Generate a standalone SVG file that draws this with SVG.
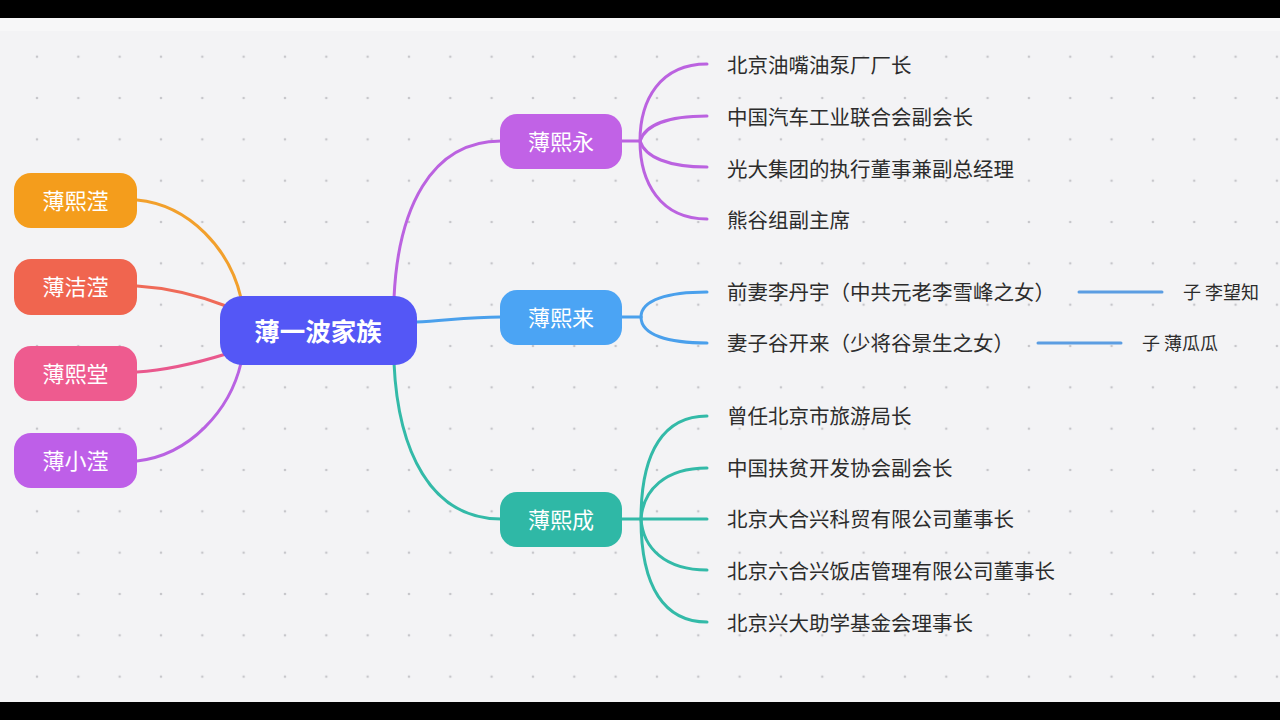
<svg xmlns="http://www.w3.org/2000/svg" width="1280" height="720" viewBox="0 0 1280 720">
<defs>
<pattern id="dots" patternUnits="userSpaceOnUse" x="16.33" y="36.03" width="41.33" height="41.33">
<circle cx="20.67" cy="20.67" r="1.3" fill="#c6c6ca"/>
</pattern>
<style>
.node text{font-family:"Noto Sans CJK SC","Noto Sans",sans-serif;fill:#ffffff;text-anchor:middle;dominant-baseline:central;}
.sub{font-size:22px;}
.leaf{font-family:"Noto Sans CJK SC","Noto Sans",sans-serif;font-size:20.5px;fill:#2c2c2c;dominant-baseline:central;}
.gc{font-family:"Noto Sans CJK SC","Noto Sans",sans-serif;font-size:18px;fill:#2c2c2c;dominant-baseline:central;}
#connectors path,#connectors line{fill:none;stroke-width:3;stroke-linecap:round;}
</style>
</defs>
<rect x="0" y="0" width="1280" height="720" fill="#000"/>
<rect x="0" y="18" width="1280" height="684" fill="#f3f3f5"/>
<rect x="0" y="18" width="1280" height="13" fill="#f7f7f8"/>
<rect x="0" y="31" width="1280" height="671" fill="url(#dots)"/>

<g id="connectors">
<path d="M137 200 C190 205 230 250 241 298" stroke="#f2a02c"/>
<path d="M137 286 C170 288 200 296 226 306" stroke="#ef6a58"/>
<path d="M137 372 C170 370 200 362 226 354" stroke="#e9588d"/>
<path d="M137 461 C190 455 230 410 241 363" stroke="#b962e2"/>
<path d="M394 298 C398 210 430 141 501 141" stroke="#bb62e0"/>
<path d="M416 322 C450 320 470 317 501 317" stroke="#4aa0ec"/>
<path d="M394 363 C398 450 430 519 501 519" stroke="#33baa8"/>
<g stroke="#bb62e0">
<path d="M621 141 L640 141"/>
<path d="M640 141 C640 100 660 64 707 64"/>
<path d="M640 141 C645 125 668 116 707 116"/>
<path d="M640 141 C645 157 668 167 707 167"/>
<path d="M640 141 C640 182 660 219 707 219"/>
</g>
<g stroke="#4aa0ec">
<path d="M621 317 L641 317"/>
<path d="M641 317 C641 300 668 292 707 292"/>
<path d="M641 317 C641 335 668 343 707 343"/>
<line x1="1079" y1="292" x2="1162" y2="292" stroke="#5b9de2"/>
<line x1="1038" y1="343" x2="1121" y2="343" stroke="#5b9de2"/>
</g>
<g stroke="#33baa8">
<path d="M621 519 L641 519"/>
<path d="M641 519 C641 450 665 416 707 416"/>
<path d="M641 519 C643 490 665 468 707 468"/>
<path d="M641 519 L707 519"/>
<path d="M641 519 C643 548 665 570 707 570"/>
<path d="M641 519 C641 588 665 622 707 622"/>
</g>
</g>

<g id="root" class="node">
<rect x="220" y="296" width="197" height="69" rx="22" fill="#5457f6"/>
<text x="318" y="329.5" font-size="25.5" font-weight="bold">薄一波家族</text>
</g>
<g id="n-xiying" class="node">
<rect x="14" y="173" width="123" height="55" rx="17" fill="#f49d1c"/>
<text class="sub" x="75.5" y="198.5">薄熙滢</text>
</g>
<g id="n-jieying" class="node">
<rect x="14" y="259" width="123" height="56" rx="17" fill="#f0654f"/>
<text class="sub" x="75.5" y="285">薄洁滢</text>
</g>
<g id="n-xitang" class="node">
<rect x="14" y="346" width="123" height="55" rx="17" fill="#ee5b8f"/>
<text class="sub" x="75.5" y="371.5">薄熙堂</text>
</g>
<g id="n-xiaoying" class="node">
<rect x="14" y="433" width="123" height="55" rx="17" fill="#be5fe8"/>
<text class="sub" x="75.5" y="458.5">薄小滢</text>
</g>
<g id="n-xiyong" class="node">
<rect x="500" y="114" width="122" height="55" rx="17" fill="#c162e6"/>
<text class="sub" x="561" y="139.5">薄熙永</text>
</g>
<g id="n-xilai" class="node">
<rect x="500" y="290" width="122" height="55" rx="17" fill="#4ba4f4"/>
<text class="sub" x="561" y="315.5">薄熙来</text>
</g>
<g id="n-xicheng" class="node">
<rect x="500" y="492" width="122" height="55" rx="17" fill="#2fb8a6"/>
<text class="sub" x="561" y="517.5">薄熙成</text>
</g>

<g id="l-yong1"><text class="leaf" x="727" y="63.5">北京油嘴油泵厂厂长</text></g>
<g id="l-yong2"><text class="leaf" x="727" y="115.5">中国汽车工业联合会副会长</text></g>
<g id="l-yong3"><text class="leaf" x="727" y="167.5">光大集团的执行董事兼副总经理</text></g>
<g id="l-yong4"><text class="leaf" x="727" y="218.5">熊谷组副主席</text></g>
<g id="l-lai1"><text class="leaf" x="727" y="290.5">前妻李丹宇（中共元老李雪峰之女）</text></g>
<g id="l-lai2"><text class="leaf" x="727" y="341.5">妻子谷开来（少将谷景生之女）</text></g>
<g id="c-wangzhi"><text class="gc" x="1183" y="290.5">子 李望知</text></g>
<g id="c-guagua"><text class="gc" x="1142" y="341.5">子 薄瓜瓜</text></g>
<g id="l-cheng1"><text class="leaf" x="727" y="414.5">曾任北京市旅游局长</text></g>
<g id="l-cheng2"><text class="leaf" x="727" y="466.5">中国扶贫开发协会副会长</text></g>
<g id="l-cheng3"><text class="leaf" x="727" y="517.5">北京大合兴科贸有限公司董事长</text></g>
<g id="l-cheng4"><text class="leaf" x="727" y="569.5">北京六合兴饭店管理有限公司董事长</text></g>
<g id="l-cheng5"><text class="leaf" x="727" y="621.5">北京兴大助学基金会理事长</text></g>
</svg>
